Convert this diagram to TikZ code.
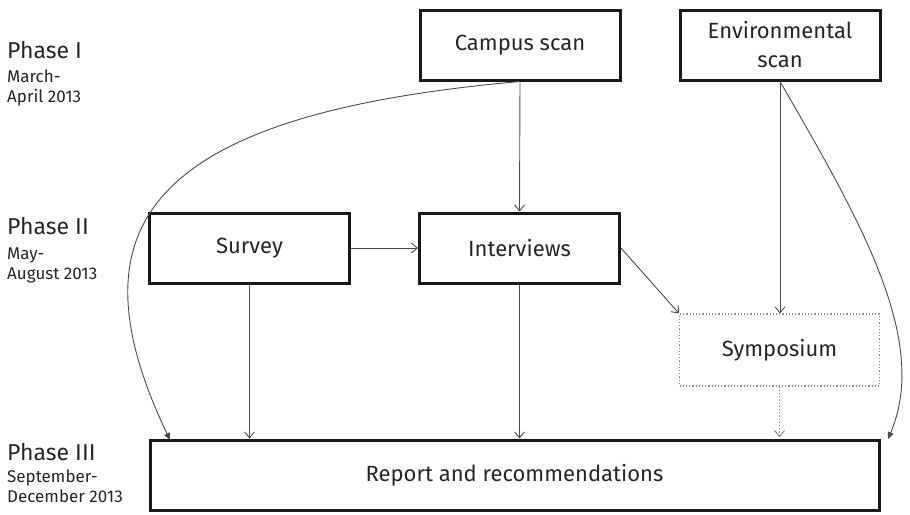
\documentclass[tikz,border=0pt]{standalone}
\usepackage{fontspec}
\setmainfont{Fira Sans}
\usetikzlibrary{arrows.meta,calc}
\begin{document}
\begin{tikzpicture}[x=1pt,y=-1pt,
  box/.style={draw=black!90,line width=3pt,minimum width=200pt,minimum height=70pt,inner sep=0pt,align=center,font=\fontsize{22}{26}\selectfont,text=black!85},
  dotbox/.style={draw=black!45,line width=1.2pt,dotted,minimum width=200pt,minimum height=72pt,inner sep=0pt,font=\fontsize{22}{26}\selectfont,text=black!85},
  arr/.style={draw=black!70,line width=0.9pt,-{Straight Barb[length=6pt,width=10pt,line width=0.9pt]}},
  carr/.style={draw=black!70,line width=0.9pt,-{Triangle[length=7pt,width=6pt]}},
  darr/.style={draw=black!45,line width=1.2pt,dotted,-{Straight Barb[length=6pt,width=10pt,line width=1pt,sep]}},
  phase/.style={anchor=base west,inner sep=0pt,align=left,text=black!85},
  big/.style={font=\fontsize{23}{26}\selectfont},
  small/.style={font=\fontsize{17}{20}\selectfont}
]
\useasboundingbox (0,0) rectangle (910,514);

\node[box] (campus) at (520,45) {Campus scan};
\node[box] (env) at (780,45) {Environmental\\[3pt]scan};
\node[box] (survey) at (249.5,248) {Survey};
\node[box] (interv) at (519.5,248) {Interviews};
\node[dotbox] (symp) at (779.5,350) {Symposium};
\node[box,minimum width=729pt] (report) at (514.5,475) {Report and recommendations};

\node[phase,big] (p1) at (7,58) {Phase I};
\node[phase,small] (d1) at (7,102) {March-\\April 2013};
\node[phase,big] (p2) at (7,234) {Phase II};
\node[phase,small] (d2) at (7,279) {May-\\August 2013};
\node[phase,big] (p3) at (7,460) {Phase III};
\node[phase,small] (d3) at (7,502) {September-\\December 2013};

\coordinate (rin) at (170,440);
\coordinate (rout) at (888,439);

\draw[arr] (campus.south) -- (interv.north);
\draw[arr] (survey.east) -- (interv.west);
\draw[arr] (survey.south) -- (survey.south |- report.north);
\draw[arr] (interv.south) -- (interv.south |- report.north);
\draw[arr] (interv.east) -- (symp.north west);
\draw[arr] (env.south) -- (env.south |- symp.north);
\draw[darr] (symp.south) -- (symp.south |- report.north);
\draw[carr] (campus.south) .. controls (140,115) and (70,230) .. (rin);
\draw[carr] (env.south) .. controls (860,220) and (930,340) .. (rout);
\end{tikzpicture}
\end{document}
